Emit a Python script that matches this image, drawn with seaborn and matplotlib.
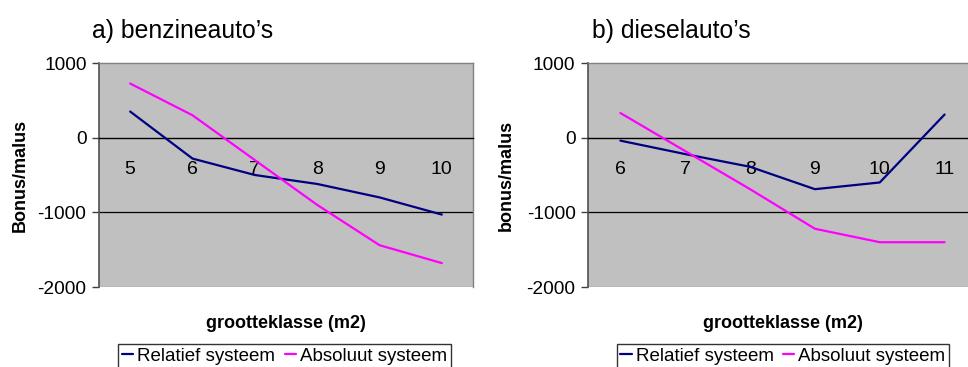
import matplotlib
matplotlib.use("Agg")
import matplotlib.pyplot as plt
from matplotlib.lines import Line2D
import numpy as np
import pandas as pd
import seaborn as sns

# Bonus/malus per size class (m2) for petrol and diesel cars
classes_benzine = [5, 6, 7, 8, 9, 10]
relatief_benzine = [350, -280, -500, -620, -800, -1030]
absoluut_benzine = [725, 300, -300, -900, -1440, -1680]

classes_diesel = [6, 7, 8, 9, 10, 11]
relatief_diesel = [-40, -220, -390, -690, -600, 310]
absoluut_diesel = [330, -180, -690, -1220, -1400, -1400]

series_names = ["Relatief systeem", "Absoluut systeem"]
y_ticks = [1000, 0, -1000, -2000]

sns.set_theme(style="white")
plt.rcParams["font.family"] = ["Liberation Sans", "DejaVu Sans"]
plt.rcParams.update({
    "text.color": "black",
    "axes.labelcolor": "black",
    "xtick.color": "black",
    "ytick.color": "black",
})

colors = {"Relatief systeem": "#000080", "Absoluut systeem": "#FF00FF"}
BG = "#C0C0C0"


def long_frame(classes, rel, abs_):
    return pd.DataFrame({
        "klasse": list(classes) * 2,
        "waarde": list(rel) + list(abs_),
        "systeem": [series_names[0]] * len(classes) + [series_names[1]] * len(classes),
    })


def draw_panel(ax, classes, rel, abs_, title, ylabel, title_x, legend_cx):
    df = long_frame(classes, rel, abs_)
    sns.lineplot(data=df, x="klasse", y="waarde", hue="systeem",
                 palette=colors, hue_order=series_names, linewidth=1.6,
                 legend=False, ax=ax, zorder=5)
    ax.set_facecolor(BG)
    lo, hi = classes[0] - 0.5, classes[-1] + 0.5
    ax.set_xlim(lo, hi)
    ax.set_ylim(-2000, 1000)

    # category axis crosses at zero
    ax.spines["bottom"].set_position(("data", 0))
    ax.spines["bottom"].set_color("black")
    ax.spines["bottom"].set_linewidth(1.0)
    ax.spines["left"].set_color("#505050")
    ax.spines["left"].set_linewidth(1.2)
    for s in ("top", "right"):
        ax.spines[s].set_color("#808080")
        ax.spines[s].set_linewidth(1.0)
    ax.axhline(-1000, color="black", lw=0.9, zorder=1)
    ax.axhline(-2000, color="#9a9a9a", lw=1.0, zorder=1)

    ax.set_xticks(classes)
    ax.set_xticklabels([str(c) for c in classes])
    ax.set_xticks(np.arange(lo, hi + 0.01, 1.0), minor=True)
    ax.tick_params(axis="x", which="major", length=0, pad=16.5,
                   labelsize=14, labelcolor="black")
    ax.tick_params(axis="x", which="minor", length=4.5, width=1.0,
                   direction="out", color="black")

    ax.set_yticks(y_ticks)
    ax.set_yticklabels([str(v) for v in y_ticks])
    ax.tick_params(axis="y", which="major", length=5, width=1.0,
                   direction="out", color="#404040", pad=4,
                   labelsize=13.8, labelcolor="black", left=True)

    ax.set_xlabel("grootteklasse (m2)", fontsize=13, fontweight="bold",
                  va="center")
    ax.xaxis.set_label_coords(0.5, -0.163)
    ax.set_ylabel(ylabel, fontsize=13, fontweight="bold", va="center")
    ax.yaxis.set_label_coords(-0.21, 0.5)

    fig.text(title_x, 1 - 38 / 367, title, fontsize=17.8, ha="left",
             va="baseline", color="black")

    handles = [Line2D([], [], color=colors[n], lw=1.6) for n in series_names]
    leg = ax.legend(handles, series_names, ncol=2, loc="upper center",
                    bbox_to_anchor=(legend_cx, 1 - 344 / 367),
                    bbox_transform=fig.transFigure, borderaxespad=0,
                    fontsize=13.5, frameon=True, fancybox=False,
                    handlelength=0.6, handletextpad=0.22,
                    columnspacing=0.5, borderpad=0.2)
    leg.get_frame().set_edgecolor("black")
    leg.get_frame().set_linewidth(1.0)
    leg.get_frame().set_facecolor("white")
    for t in leg.get_texts():
        t.set_color("black")


fig = plt.figure(figsize=(9.68, 3.67), dpi=100)
ax1 = fig.add_axes([99 / 968, 1 - 287 / 367, 374 / 968, 224 / 367])
ax2 = fig.add_axes([588 / 968, 1 - 287 / 367, 389 / 968, 224 / 367])

draw_panel(ax1, classes_benzine, relatief_benzine, absoluut_benzine,
           "a) benzineauto\u2019s", "Bonus/malus", 92 / 968, 284.5 / 968)
draw_panel(ax2, classes_diesel, relatief_diesel, absoluut_diesel,
           "b) dieselauto\u2019s", "bonus/malus", 592 / 968, 783 / 968)

fig.savefig("out.png", dpi=100, facecolor="white")
